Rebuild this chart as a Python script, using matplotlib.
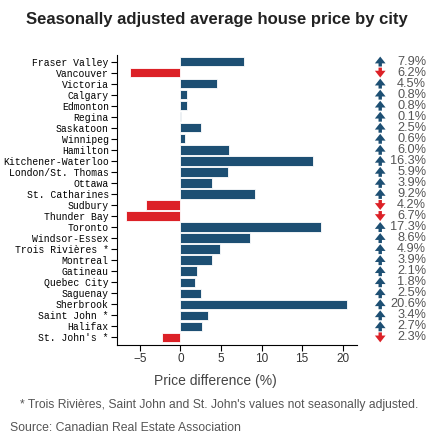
import matplotlib
matplotlib.use("Agg")
import matplotlib.pyplot as plt
from matplotlib.patches import FancyArrowPatch

plt.rcParams["font.family"] = ["Liberation Sans", "DejaVu Sans"]

cities = ["Fraser Valley", "Vancouver", "Victoria", "Calgary", "Edmonton", "Regina",
          "Saskatoon", "Winnipeg", "Hamilton", "Kitchener-Waterloo", "London/St. Thomas",
          "Ottawa", "St. Catharines", "Sudbury", "Thunder Bay", "Toronto", "Windsor-Essex",
          "Trois Rivières *", "Montreal", "Gatineau", "Quebec City", "Saguenay",
          "Sherbrook", "Saint John *", "Halifax", "St. John's *"]
values = [7.9, -6.2, 4.5, 0.8, 0.8, 0.1, 2.5, 0.6, 6.0, 16.3, 5.9, 3.9, 9.2,
          -4.2, -6.7, 17.3, 8.6, 4.9, 3.9, 2.1, 1.8, 2.5, 20.6, 3.4, 2.7, -2.3]
xticks = [-5, 0, 5, 10, 15, 20]

blue = "#1d4f73"
red = "#dc2127"

fig = plt.figure(figsize=(4.34, 4.43), dpi=100)
ax = fig.add_axes([0.27, 0.221, 0.553, 0.655])

ypos = list(range(len(cities)))
colors = [blue if v >= 0 else red for v in values]
ax.barh(ypos, values, height=0.85, color=colors, edgecolor="white", linewidth=0.6)

ax.set_ylim(len(cities) - 0.3, -0.6)
ax.set_xlim(-7.8, 21.8)
ax.set_yticks(ypos)
ax.set_yticklabels(cities, family="Liberation Mono", fontsize=7)
ax.set_xticks(xticks)
ax.set_xticklabels([str(t).replace("-", "\u2212") for t in xticks], fontsize=8.5, color="#333333")
ax.tick_params(axis="both", direction="out", length=4, width=0.8, pad=2)
for s in ["top", "right"]:
    ax.spines[s].set_visible(False)
ax.spines["left"].set_bounds(-0.6, len(cities) - 0.3)

ax.set_xlabel("Price difference (%)", fontsize=10, color="#444444")
ax.xaxis.set_label_coords(0.41, -0.1)

# arrows and value labels on the right
tr = ax.get_yaxis_transform()
for i, v in enumerate(values):
    col = blue if v >= 0 else red
    if v >= 0:
        start, end = (1.096, i + 0.45), (1.096, i - 0.45)
    else:
        start, end = (1.096, i - 0.45), (1.096, i + 0.45)
    arr = FancyArrowPatch(start, end, transform=tr, clip_on=False,
                          shrinkA=0, shrinkB=0,
                          arrowstyle="simple,head_width=1.1,head_length=0.7,tail_width=0.35",
                          mutation_scale=7, color=col, lw=0)
    ax.add_patch(arr)
    ax.text(1.2875, i, f"{abs(v):.1f}%", transform=tr, ha="right",
            va="center", fontsize=9.2, color="#555555")

fig.text(0.5, 0.955, "Seasonally adjusted average house price by city", ha="center",
         va="center", fontsize=12, fontweight="bold", color="#222222")
fig.text(0.505, 0.086, "* Trois Rivières, Saint John and St. John's values not seasonally adjusted.",
         ha="center", va="center", fontsize=8.7, color="#555555")
fig.text(0.023, 0.034, "Source: Canadian Real Estate Association", ha="left", va="center",
         fontsize=8.8, color="#555555")

fig.savefig("out.png", dpi=100)
